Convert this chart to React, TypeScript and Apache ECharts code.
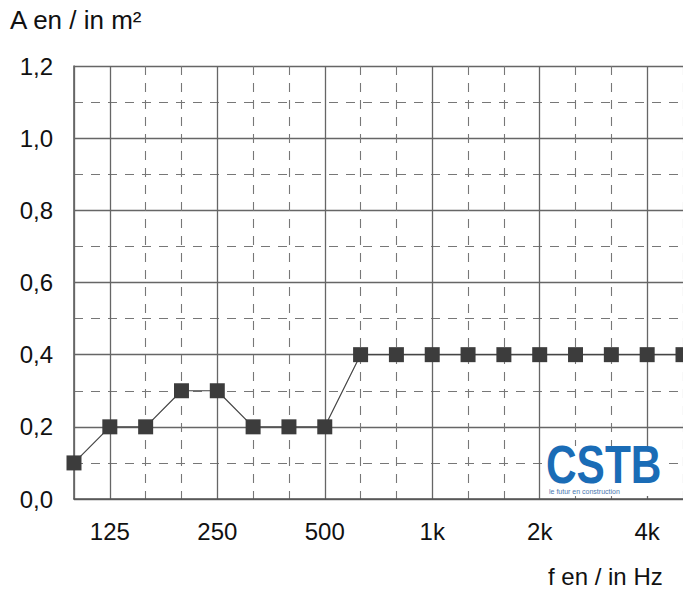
import React, { useEffect, useRef } from "react";
import * as echarts from "echarts";

const categories = ["100", "125", "160", "200", "250", "315", "400", "500", "630", "800", "1k", "1.25k", "1.6k", "2k", "2.5k", "3.15k", "4k", "5k"];
const values = [0.1, 0.2, 0.2, 0.3, 0.3, 0.2, 0.2, 0.2, 0.4, 0.4, 0.4, 0.4, 0.4, 0.4, 0.4, 0.4, 0.4, 0.4];
const majorLabels = ["125", "250", "500", "1k", "2k", "4k"];
const yMin = 0;
const yMax = 1.2;
const yStep = 0.2;

const FONT = "'Liberation Sans', Arial, sans-serif";

export default function App() {
  const ref = useRef<HTMLDivElement>(null);
  useEffect(() => {
    if (!ref.current) return;
    const chart = echarts.init(ref.current, null, { renderer: "svg" });
    const isMajor = (i: number) => majorLabels.includes(categories[i]);
    chart.setOption({
      animation: false,
      backgroundColor: "#ffffff",
      textStyle: { fontFamily: FONT },
      grid: { left: 74, right: -5, top: 66, bottom: 90, containLabel: false },
      xAxis: [
        {
          type: "category",
          data: categories,
          boundaryGap: false,
          position: "bottom",
          axisLine: { show: true, lineStyle: { color: "#555", width: 1.5 } },
          axisTick: { show: false },
          axisLabel: {
            interval: (i: number) => isMajor(i),
            margin: 20,
            fontSize: 24,
            color: "#111",
            fontFamily: FONT,
          },
          splitLine: {
            show: true,
            interval: (i: number) => isMajor(i) || i === 0,
            lineStyle: { color: "#666", width: 1.3, type: "solid" },
          },
          z: 2,
        },
        {
          type: "category",
          data: categories,
          boundaryGap: false,
          position: "top",
          axisLine: { show: false },
          axisTick: { show: false },
          axisLabel: { show: false },
          splitLine: {
            show: true,
            interval: (i: number) => !isMajor(i) && i !== 0,
            lineStyle: { color: "#777", width: 1.1, type: [9, 8] },
          },
          z: 1,
        },
      ],
      yAxis: {
        type: "value",
        min: yMin,
        max: yMax,
        interval: yStep,
        axisLine: { show: true, lineStyle: { color: "#555", width: 1.5 } },
        axisTick: { show: false },
        axisLabel: {
          margin: 21,
          fontSize: 24,
          color: "#111",
          fontFamily: FONT,
          formatter: (v: number) => v.toFixed(1).replace(".", ","),
        },
        splitLine: { show: true, lineStyle: { color: "#666", width: 1.3 } },
        minorTick: { show: false, splitNumber: 2 },
        minorSplitLine: { show: true, lineStyle: { color: "#777", width: 1.1, type: [9, 8] } },
      },
      series: [
        {
          type: "line",
          data: values,
          xAxisIndex: 0,
          symbol: "rect",
          symbolSize: 15,
          itemStyle: { color: "#3c3c3c" },
          lineStyle: { color: "#444", width: 1.2 },
          z: 5,
        },
      ],
      graphic: [
        {
          type: "text",
          left: 10,
          top: 7,
          style: { text: "A en / in m²", fontSize: 26, fill: "#111", fontFamily: FONT },
        },
        {
          type: "text",
          left: 548,
          top: 564,
          style: { text: "f en / in Hz", fontSize: 24, fill: "#111", fontFamily: FONT },
        },
        {
          type: "rect",
          shape: { x: 545, y: 446, width: 120, height: 50 },
          style: { fill: "#ffffff" },
          z: 10,
        },
        {
          type: "text",
          x: 546,
          y: 438,
          scaleX: 0.8,
          style: { text: "CSTB", fontSize: 53, fontWeight: "bold", fill: "#1a6cb6", fontFamily: FONT },
          z: 11,
        },
        {
          type: "text",
          x: 549,
          y: 488,
          style: { text: "le futur en construction", fontSize: 7, fill: "#4a78b0", fontFamily: FONT },
          z: 11,
        },
      ],
    });
    return () => chart.dispose();
  }, []);
  return <div ref={ref} style={{ position: "absolute", left: 0, top: 0, width: 683, height: 589 }} />;
}
